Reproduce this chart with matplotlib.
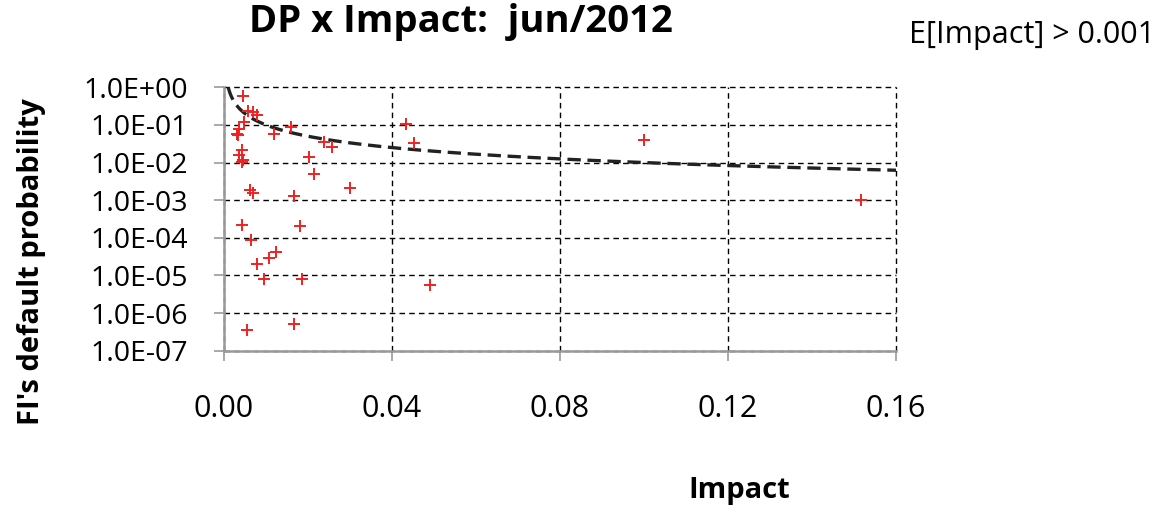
import numpy as np
import matplotlib
matplotlib.use("Agg")
import matplotlib.pyplot as plt
from matplotlib.ticker import FixedLocator, FuncFormatter, NullLocator

# impact vs default probability per institution
impact = [0.0046, 0.0056, 0.0070, 0.0079, 0.0048, 0.0036, 0.0031, 0.0034,
          0.0119, 0.0160, 0.0044, 0.0036, 0.0046, 0.0044, 0.0239, 0.0258,
          0.0202, 0.0215, 0.0300, 0.0063, 0.0069, 0.0167, 0.0044, 0.0180,
          0.0064, 0.0124, 0.0107, 0.0078, 0.0095, 0.0185, 0.0167, 0.0054,
          0.0433, 0.0452, 0.0491, 0.1001, 0.1517]
default_prob = [0.59, 0.24, 0.216, 0.187, 0.12, 0.078, 0.057, 0.054,
                0.057, 0.09, 0.022, 0.016, 0.0117, 0.0102, 0.035, 0.026,
                0.0144, 0.0051, 0.0021, 0.0019, 0.0016, 0.00126, 0.00022, 0.0002,
                8.6e-5, 4.2e-5, 2.9e-5, 2.0e-5, 7.9e-6, 8.2e-6, 5.2e-7, 3.5e-7,
                0.108, 0.034, 5.6e-6, 0.039, 0.001]

expected_impact = 0.001
x_ticks = [0.00, 0.04, 0.08, 0.12, 0.16]
y_ticks = [1e0, 1e-1, 1e-2, 1e-3, 1e-4, 1e-5, 1e-6, 1e-7]

plt.rcParams['font.family'] = ['Open Sans', 'DejaVu Sans']

fig = plt.figure(figsize=(11.69, 5.13), dpi=100)
ax = fig.add_axes([0.1916, 0.3164, 0.5749, 0.5134])

# iso-line DP * Impact = threshold
curve_x = np.linspace(expected_impact, 0.16, 400)
ax.plot(curve_x, expected_impact / curve_x, color='#222222', lw=2.4,
        linestyle=(0, (4, 2)), zorder=3)

ax.plot(impact, default_prob, linestyle='none', marker='+', color='#ee2222',
        markersize=8, mew=1.4, zorder=4)

ax.set_yscale('log')
ax.set_xlim(0, 0.16)
ax.set_ylim(1e-7, 1)

ax.xaxis.set_major_locator(FixedLocator(x_ticks))
ax.yaxis.set_major_locator(FixedLocator(y_ticks))
ax.yaxis.set_minor_locator(NullLocator())
ax.xaxis.set_major_formatter(FuncFormatter(lambda v, p: "{:.2f}".format(v)))


def sci_fmt(v, p):
    e = int(round(np.log10(v)))
    return "1.0E{}{:02d}".format('+' if e >= 0 else '-', abs(e))


ax.yaxis.set_major_formatter(FuncFormatter(sci_fmt))

ax.grid(True, which='major', color='black', lw=1.0, linestyle=(0, (4, 3)))
for gl in ax.get_xgridlines() + ax.get_ygridlines():
    gl.set_clip_on(False)
for s in ['top', 'right']:
    ax.spines[s].set_visible(False)
for s in ['left', 'bottom']:
    ax.spines[s].set_color('#999999')
    ax.spines[s].set_linewidth(1.8)
    ax.spines[s].set_zorder(2.5)

ax.tick_params(axis='y', which='major', length=7, width=1.2, color='#999999',
               labelsize=20.5, pad=19)
ax.tick_params(axis='x', which='major', length=7, width=1.2, color='#999999',
               labelsize=22, pad=24)

fig.text(0.394, 0.957, "DP x Impact:  jun/2012", fontsize=27.5, fontweight='bold',
         ha='center', va='center')
fig.text(0.883, 0.932, "E[Impact] > 0.001", fontsize=22, ha='center', va='center')
fig.text(0.027, 0.49, "FI's default probability", fontsize=21, fontweight='bold',
         rotation=90, ha='center', va='center')
fig.text(0.632, 0.043, "Impact", fontsize=21, fontweight='bold',
         ha='center', va='center')

fig.savefig("out.png", dpi=100)
